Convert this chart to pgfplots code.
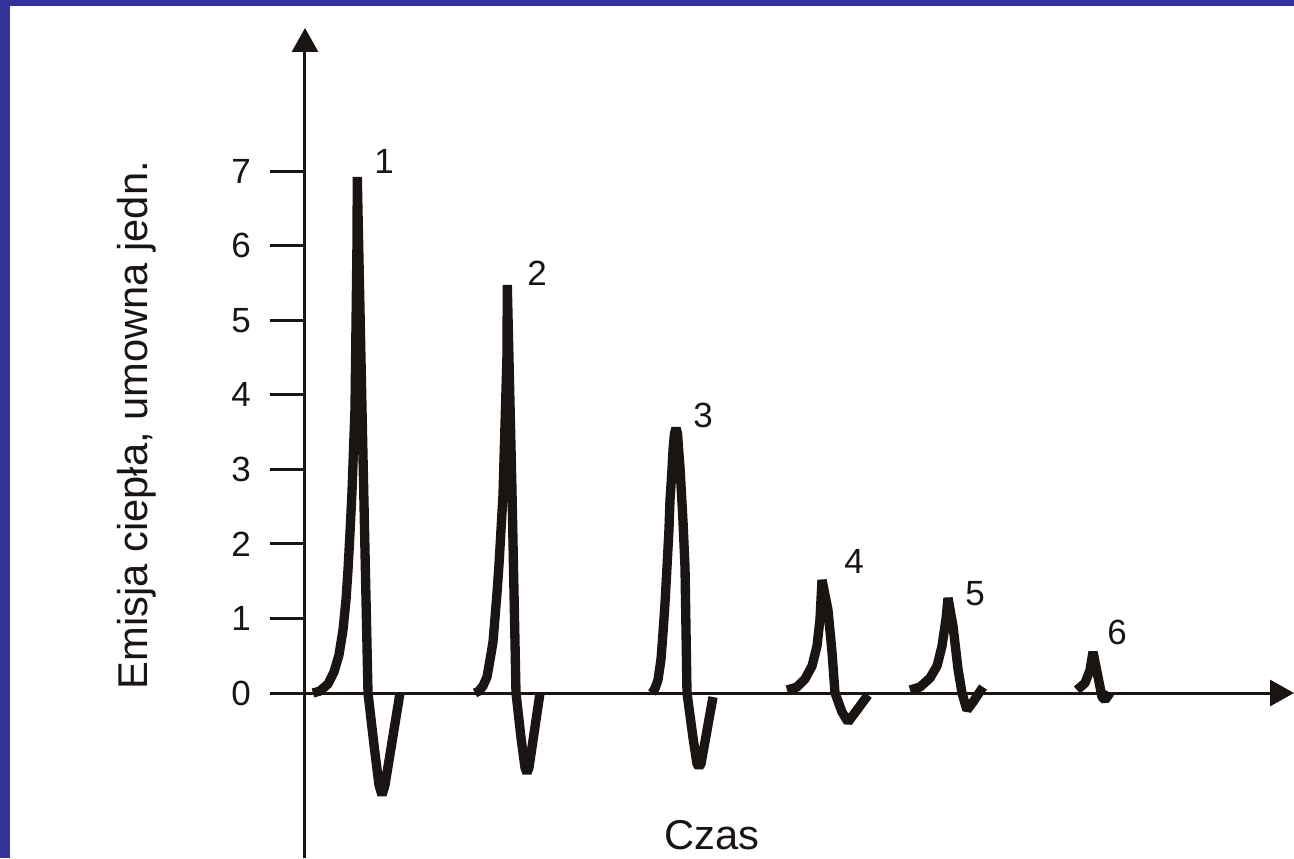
\documentclass[border=0pt]{standalone}
\usepackage{pgfplots}
\pgfplotsset{compat=1.18}
\usepackage{fontspec}
\setmainfont{Liberation Sans}
\usetikzlibrary{arrows.meta}
\definecolor{frameblue}{RGB}{51,51,153}
\definecolor{ink}{RGB}{26,21,18}
\tikzset{curve/.style={draw=ink, line width=2.8pt, line join=bevel, mark=none}}
\begin{document}
\begin{tikzpicture}
\fill[frameblue] (-91.5pt,0) rectangle (296.7pt,257.4pt);
\fill[white] (-88.5pt,0) rectangle (296.7pt,255.6pt);
\begin{axis}[
  at={(0,0)}, anchor=south west,
  scale only axis, width=296.7pt, height=249pt,
  xmin=0, xmax=989, ymin=-2.2127, ymax=8.918,
  axis x line=middle, axis y line=left,
  axis line style={line width=0.9pt, draw=ink, -{Triangle[length=7.2pt,width=7.8pt]}},
  xtick=\empty,
  ytick={0,1,2,3,4,5,6,7},
  tick align=outside,
  major tick length=10.5pt,
  tick style={line width=0.9pt, draw=ink},
  yticklabel style={font=\fontsize{10.5}{12}\selectfont, text=ink, anchor=east, xshift=-2.2pt},
  /pgf/number format/assume math mode=true,
  hide obscured y ticks=false,
  clip=false,
]
\addplot[curve] coordinates {
(8,0) (15,0.027) (23,0.121) (29,0.282) (34,0.51) (38,0.845) (41,1.247) (43,1.649) (45,2.146) (47,2.695) (48.5,3.259) (50,3.808) (51,4.922) (52,6.035) (52.3,6.92) (57,3.808) (63,0) (69,-0.697) (74,-1.234) (77,-1.368) (80,-1.234) (95,0)};
\addplot[curve] coordinates {
(170,0) (174,0.027) (178,0.094) (182,0.215) (185,0.443) (188,0.684) (190,1.006) (192,1.341) (194,1.717) (196,2.186) (198,2.655) (199,3.125) (200,3.594) (201,4.063) (202,4.533) (202.3,5.471) (207,2.7) (211,0) (216,-0.6) (220,-1.0) (222,-1.073) (224,-1.0) (235,0)};
\addplot[curve] coordinates {
(347,0) (350,0.06) (353,0.174) (356,0.45) (358,0.805) (360,1.2) (362,1.69) (364,2.2) (365,2.588) (367,3.0) (368,3.259) (369.5,3.48) (371,3.554) (372.5,3.48) (374,3.2) (375,3.031) (378,2.3) (380,1.69) (382,0) (388,-0.6) (392,-0.95) (394,-0.992) (396,-0.95) (408,-0.054)};
\addplot[curve] coordinates {
(482,0.04) (492,0.08) (500,0.188) (507,0.362) (512,0.63) (515,0.992) (517,1.515) (523,1.113) (527,0.55) (530,0) (537,-0.255) (543,-0.389) (552,-0.228) (563,-0.027)};
\addplot[curve] coordinates {
(605,0.04) (615,0.08) (625,0.201) (632,0.362) (637,0.63) (641,0.992) (643,1.274) (648,0.898) (653,0.322) (657,0) (662,-0.228) (668,-0.121) (678,0.08)};
\addplot[curve] coordinates {
(772,0.04) (780,0.134) (785,0.308) (788,0.55) (793,0.215) (797,-0.054) (800,-0.094) (805,0)};
\node[font=\fontsize{10.5}{12}\selectfont, text=ink, anchor=base] at (axis cs:79,6.973) {1};
\node[font=\fontsize{10.5}{12}\selectfont, text=ink, anchor=base] at (axis cs:232,5.471) {2};
\node[font=\fontsize{10.5}{12}\selectfont, text=ink, anchor=base] at (axis cs:398,3.554) {3};
\node[font=\fontsize{10.5}{12}\selectfont, text=ink, anchor=base] at (axis cs:549,1.609) {4};
\node[font=\fontsize{10.5}{12}\selectfont, text=ink, anchor=base] at (axis cs:670,1.18) {5};
\node[font=\fontsize{10.5}{12}\selectfont, text=ink, anchor=base] at (axis cs:812,0.644) {6};
\node[rotate=90, anchor=base, font=\fontsize{12.5}{15}\selectfont, text=ink] at (axis cs:-157,3.594) {Emisja ciepła, umowna jedn.};
\node[anchor=base, font=\fontsize{12.5}{15}\selectfont, text=ink] at (axis cs:407,-2.105) {Czas};
\end{axis}
\pgfresetboundingbox
\path[use as bounding box] (-91.5pt,0) rectangle (296.7pt,257.4pt);
\end{tikzpicture}
\end{document}
